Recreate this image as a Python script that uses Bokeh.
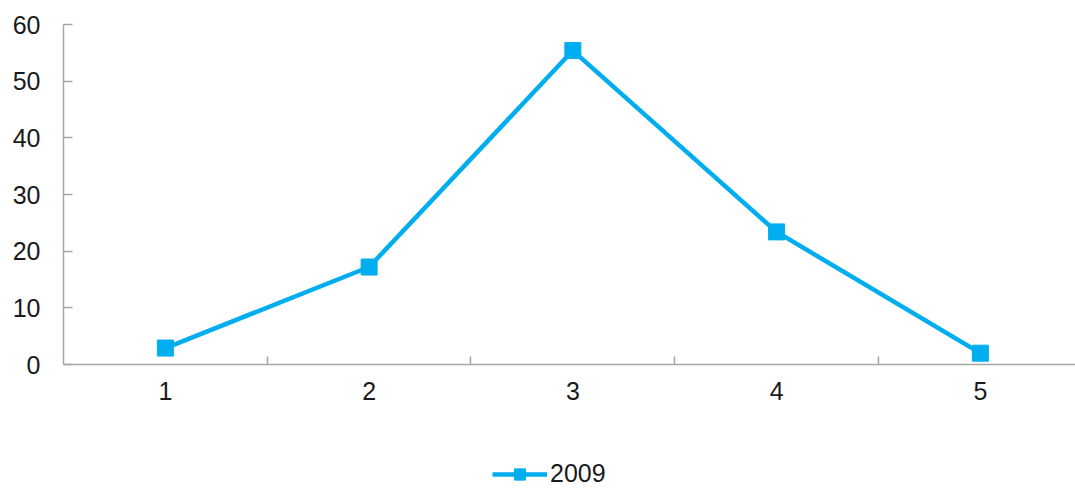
from bokeh.plotting import figure
from bokeh.models import FixedTicker, Range1d, Legend, LegendItem
from bokeh.layouts import column
from bokeh.embed import file_html
from bokeh.resources import INLINE

categories = ["1", "2", "3", "4", "5"]
x_pos = [1, 2, 3, 4, 5]
values_2009 = [2.9, 17.2, 55.4, 23.4, 2.0]
y_ticks = [0, 10, 20, 30, 40, 50, 60]
series_name = "2009"

COLOR = "#00AEEF"
AXIS = "#A6A6A6"
FONT = "Liberation Sans"
TXT = "#1a1a1a"

p = figure(frame_width=1012, frame_height=340, output_backend="svg",
           toolbar_location=None, min_border_left=63, min_border_right=0,
           min_border_top=24, min_border_bottom=70,
           x_range=Range1d(0.5, 5.467), y_range=Range1d(0, 60))
p.outline_line_color = None
p.xgrid.visible = False
p.ygrid.visible = False

p.line(x_pos, values_2009, line_color=COLOR, line_width=4.5)
p.scatter(x_pos, values_2009, marker="square", size=16,
          fill_color=COLOR, line_color=COLOR)

xa = p.xaxis[0]
xa.ticker = FixedTicker(ticks=x_pos, minor_ticks=[1.5, 2.5, 3.5, 4.5])
xa.major_label_overrides = {x: c for x, c in zip(x_pos, categories)}
xa.major_tick_in = 0
xa.major_tick_out = 0
xa.minor_tick_in = 8
xa.minor_tick_out = 0
xa.minor_tick_line_color = AXIS
xa.minor_tick_line_width = 1.5
xa.axis_line_color = AXIS
xa.axis_line_width = 1.5
xa.major_label_standoff = 17
xa.major_label_text_font = FONT
xa.major_label_text_font_size = "25px"
xa.major_label_text_color = TXT

ya = p.yaxis[0]
ya.ticker = FixedTicker(ticks=y_ticks)
ya.major_tick_in = 9
ya.major_tick_out = 0
ya.minor_tick_line_color = None
ya.major_tick_line_color = AXIS
ya.major_tick_line_width = 1.5
ya.axis_line_color = AXIS
ya.axis_line_width = 1.5
ya.major_label_standoff = 23
ya.major_label_text_font = FONT
ya.major_label_text_font_size = "25px"
ya.major_label_text_color = TXT

# Legend strip below the chart (same series, glyphs kept out of view)
p2 = figure(frame_width=1075, frame_height=54, output_backend="svg",
            toolbar_location=None, min_border_left=0, min_border_right=0,
            min_border_top=0, min_border_bottom=0,
            x_range=Range1d(0, 1), y_range=Range1d(1000, 1001))
p2.outline_line_color = None
p2.axis.visible = False
p2.grid.visible = False
ln2 = p2.line(x_pos, values_2009, line_color=COLOR, line_width=4.5)
sc2 = p2.scatter(x_pos, values_2009, marker="square", size=16,
                 fill_color=COLOR, line_color=COLOR)

legend = Legend(items=[LegendItem(label=series_name, renderers=[ln2, sc2])],
                location=(492, 0), orientation="horizontal",
                padding=0, margin=0, spacing=0, glyph_width=55, glyph_height=28,
                label_standoff=3, border_line_color=None,
                background_fill_alpha=0,
                label_text_font=FONT, label_text_font_size="25px",
                label_text_color=TXT)
p2.add_layout(legend, "center")

layout = column(p, p2, spacing=0)
open("out.html", "w").write(file_html(layout, INLINE))
